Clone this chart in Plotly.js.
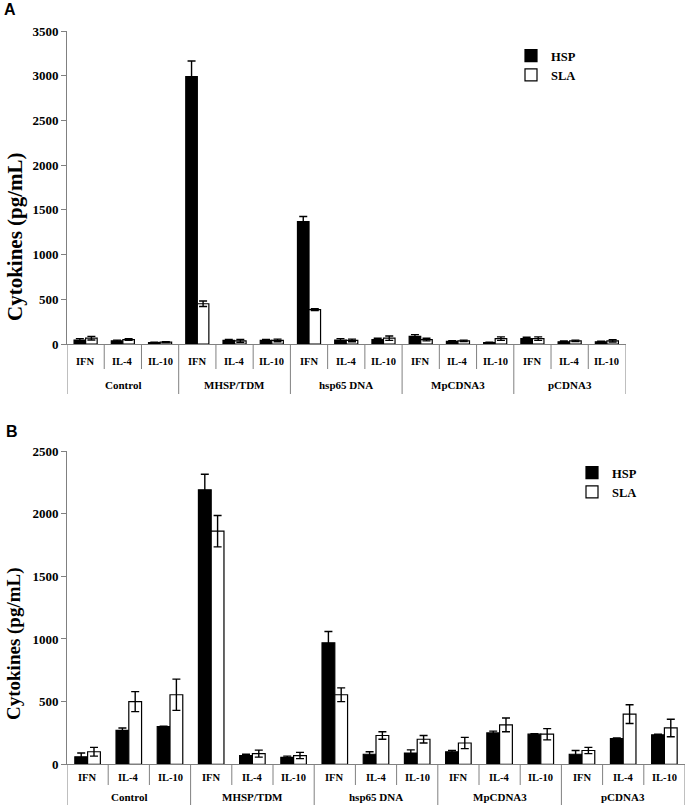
<!DOCTYPE html>
<html>
<head>
<meta charset="utf-8">
<script src="https://cdn.plot.ly/plotly-3.0.1.min.js"></script>
<style>html,body{margin:0;padding:0;background:#fff;}</style>
</head>
<body>
<div id="chart" style="width:685px;height:805px;"></div>
<script>
// ---------- data ----------
const groups = ['Control', 'MHSP/TDM', 'hsp65 DNA', 'MpCDNA3', 'pCDNA3'];
const cytokines = ['IFN', 'IL-4', 'IL-10'];
const seriesNames = ['HSP', 'SLA'];

// Panel A
const hspA    = [45, 35, 15,  2990, 40, 40,  1370, 45, 50,  85, 30, 15,  60, 25, 25];
const hspAErr = [15,  8,  5,   175, 10, 10,    55, 15, 15,  20,  8,  5,  15,  8,  5];
const slaA    = [65, 50, 20,   450, 35, 40,   385, 40, 65,  50, 35, 60,  60, 35, 35];
const slaAErr = [20, 10,  5,    30, 15, 15,    10, 15, 25,  15,  8, 20,  20,  8, 12];

// Panel B
const hspB    = [60, 270, 300,  2190, 70, 55,  970, 80, 90,  100, 250, 240,  80, 205, 235];
const hspBErr = [30,  20,   5,   125, 10, 10,   90, 20, 25,   10,  15,   5,  30,   5,   5];
const slaB    = [100, 500, 555, 1860, 85, 70,  555, 230, 200, 170, 315, 240, 110, 400, 290];
const slaBErr = [35,  80, 125,   125, 28, 25,   55,  30,  30,  45,  55,  45,  25,  75,  70];

const yTitle = 'Cytokines (pg/mL)';
const panelLetters = ['A', 'B'];

// ---------- helpers ----------
const W = 685, H = 805;
const px = v => v / W;
const py = v => 1 - v / H;
const serif = 'Liberation Serif, Times New Roman, serif';
const sans = 'Liberation Sans, Arial, sans-serif';
const gray = '#808080';

const xs = [], catLabels = [];
groups.forEach((g, gi) => cytokines.forEach((c, ci) => { xs.push(gi * cytokines.length + ci); catLabels.push(c); }));
const nCat = xs.length;

function barTrace(name, y, err, fill, xa, ya, legend, grp) {
  return {
    type: 'bar', name: name, x: xs, y: y, xaxis: xa, yaxis: ya,
    legend: legend, legendgroup: grp,
    marker: { color: fill, line: { color: '#000', width: 1.2 } },
    error_y: { type: 'data', array: err, visible: true, color: '#000', thickness: 1.4, width: 4 },
    hoverinfo: 'skip'
  };
}

const traces = [
  barTrace(seriesNames[0], hspA, hspAErr, '#000', 'x', 'y', 'legend', 'a1'),
  barTrace(seriesNames[1], slaA, slaAErr, '#fff', 'x', 'y', 'legend', 'a2'),
  barTrace(seriesNames[0], hspB, hspBErr, '#000', 'x2', 'y2', 'legend2', 'b1'),
  barTrace(seriesNames[1], slaB, slaBErr, '#fff', 'x2', 'y2', 'legend2', 'b2')
];

// ---------- separators & labels ----------
const shapes = [];
const annotations = [];
function panelDecor(xref, zeroPy, catEndPy, grpEndPy, catLabPy, grpLabPy) {
  for (let i = 0; i <= nCat; i++) {
    const isGroup = i % cytokines.length === 0;
    shapes.push({
      type: 'line', xref: xref, yref: 'paper', x0: i - 0.5, x1: i - 0.5,
      y0: py(zeroPy), y1: py(isGroup ? grpEndPy : catEndPy),
      line: { color: gray, width: 1 }
    });
  }
  xs.forEach((x, i) => annotations.push({
    xref: xref, yref: 'paper', x: x, y: py(catLabPy), text: catLabels[i],
    showarrow: false, xanchor: 'center', yanchor: 'middle',
    font: { family: serif, size: 10.5, weight: 700, color: '#000' }
  }));
  groups.forEach((g, gi) => annotations.push({
    xref: xref, yref: 'paper', x: gi * cytokines.length + (cytokines.length - 1) / 2, y: py(grpLabPy), text: g,
    showarrow: false, xanchor: 'center', yanchor: 'middle',
    font: { family: serif, size: 11, weight: 700, color: '#000' }
  }));
}
panelDecor('x', 344, 369, 394, 361, 385);
panelDecor('x2', 764.3, 785, 805, 777.7, 796.5);

// y titles
annotations.push({ xref: 'paper', yref: 'paper', x: px(15), y: py(237), text: yTitle, textangle: -90,
  showarrow: false, xanchor: 'center', yanchor: 'middle', font: { family: serif, size: 21, weight: 700, color: '#000' } });
annotations.push({ xref: 'paper', yref: 'paper', x: px(14), y: py(644), text: yTitle, textangle: -90,
  showarrow: false, xanchor: 'center', yanchor: 'middle', font: { family: serif, size: 19, weight: 700, color: '#000' } });

// panel letters
annotations.push({ xref: 'paper', yref: 'paper', x: px(2), y: py(9.5), text: panelLetters[0],
  showarrow: false, xanchor: 'left', yanchor: 'middle', font: { family: sans, size: 16, weight: 700, color: '#000' } });
annotations.push({ xref: 'paper', yref: 'paper', x: px(4), y: py(431), text: panelLetters[1],
  showarrow: false, xanchor: 'left', yanchor: 'middle', font: { family: sans, size: 16, weight: 700, color: '#000' } });

// ---------- axes ----------
function xAxis(domain, anchor) {
  return { domain: domain, range: [-0.5, nCat - 0.5], anchor: anchor, showticklabels: false, ticks: '',
    showline: true, linecolor: gray, linewidth: 1, showgrid: false, zeroline: false, fixedrange: true };
}
function yAxis(domain, range, anchor) {
  return { domain: domain, range: range, anchor: anchor, dtick: 500, tick0: 0, ticks: 'outside', ticklen: 5,
    tickcolor: gray, tickwidth: 1, showline: true, linecolor: gray, linewidth: 1, showgrid: false, zeroline: false,
    tickfont: { family: serif, size: 13, weight: 700, color: '#000' }, fixedrange: true };
}

const layout = {
  width: W, height: H, margin: { l: 0, r: 0, t: 0, b: 0 },
  paper_bgcolor: '#fff', plot_bgcolor: 'rgba(0,0,0,0)',
  barmode: 'group', bargap: 0.38, bargroupgap: 0,
  font: { family: serif, size: 12, color: '#000', weight: 700 },
  xaxis: xAxis([px(67), px(625.5)], 'y'),
  yaxis: yAxis([py(344), py(31)], [0, 3500], 'x'),
  xaxis2: xAxis([px(67), 1], 'y2'),
  yaxis2: yAxis([py(764.3), py(451)], [0, 2500], 'x2'),
  legend: { x: px(511), y: py(41), xanchor: 'left', yanchor: 'top', tracegroupgap: 0,
    bgcolor: 'rgba(0,0,0,0)', font: { family: serif, size: 12.5, weight: 700, color: '#000' } },
  legend2: { x: px(572), y: py(458), xanchor: 'left', yanchor: 'top', tracegroupgap: 0,
    bgcolor: 'rgba(0,0,0,0)', font: { family: serif, size: 12.5, weight: 700, color: '#000' } },
  shapes: shapes,
  annotations: annotations
};

Plotly.newPlot('chart', traces, layout, { staticPlot: true, displayModeBar: false });
</script>
</body>
</html>
